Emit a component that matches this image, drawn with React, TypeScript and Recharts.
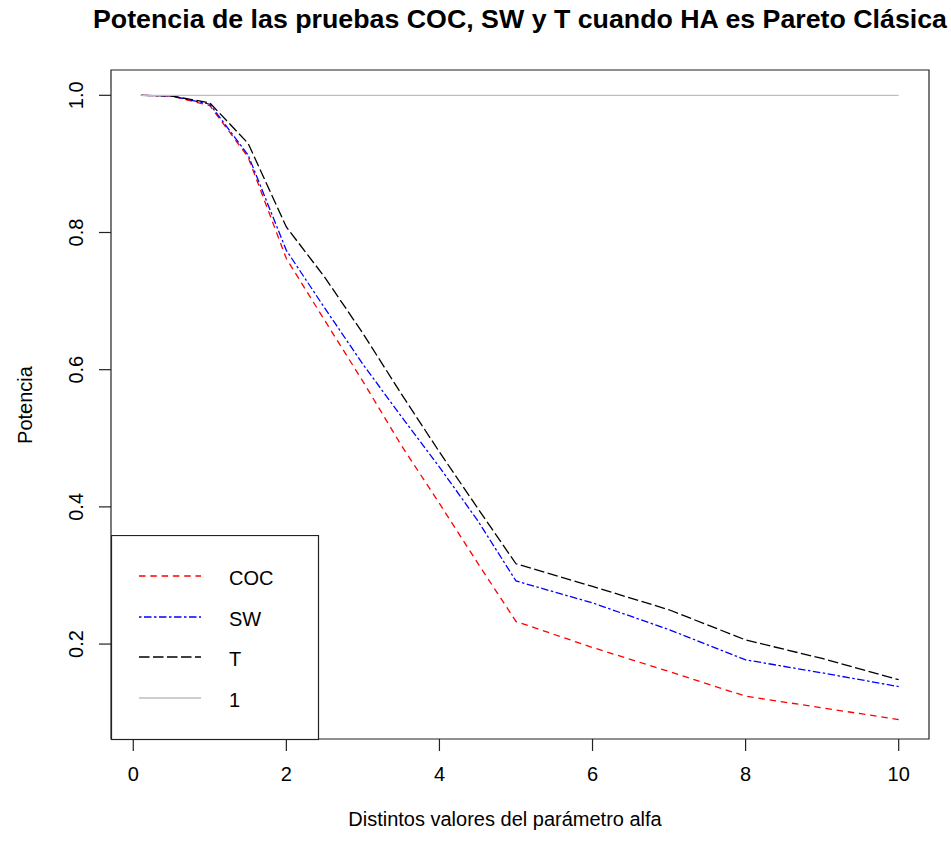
import React from "react";
import { LineChart, Line, XAxis, YAxis, ReferenceArea, Legend } from "recharts";

const alfa = [0.1, 0.5, 1, 1.5, 2, 2.5, 3, 3.5, 4, 4.5, 5, 6, 7, 8, 9, 10];
const coc = [1.0, 0.999, 0.985, 0.91, 0.762, 0.672, 0.583, 0.49, 0.405, 0.318, 0.233, 0.195, 0.16, 0.124, 0.107, 0.09];
const sw = [1.0, 0.999, 0.987, 0.913, 0.774, 0.69, 0.608, 0.532, 0.458, 0.38, 0.292, 0.26, 0.221, 0.177, 0.158, 0.138];
const tt = [1.0, 0.999, 0.989, 0.93, 0.808, 0.735, 0.653, 0.565, 0.48, 0.398, 0.317, 0.284, 0.25, 0.206, 0.179, 0.148];
const uno = [1, 1, 1, 1, 1, 1, 1, 1, 1, 1, 1, 1, 1, 1, 1, 1];

const xTicks = [0, 2, 4, 6, 8, 10];
const yTicks = [0.2, 0.4, 0.6, 0.8, 1.0];
const xDomain = [-0.291, 10.396];
const yDomain = [0.0616, 1.0369];

const title = "Potencia de las pruebas COC, SW y T cuando HA es Pareto Clásica";
const xLabel = "Distintos valores del parámetro alfa";
const yLabel = "Potencia";

const series = [
  { key: "COC", name: "COC", color: "#ff0000", dash: "6.5 4.8" },
  { key: "SW", name: "SW", color: "#0000ff", dash: "2.5 2.5 7.5 2.5" },
  { key: "T", name: "T", color: "#000000", dash: "10.5 3.5" },
  { key: "uno", name: "1", color: "#bebebe", dash: undefined as string | undefined },
];

const data = alfa.map((a, i) => ({ alfa: a, COC: coc[i], SW: sw[i], T: tt[i], uno: uno[i] }));

const FONT = "'Liberation Sans', Arial, sans-serif";

const XTick = (props: any) => {
  const { x, y, payload } = props;
  return (
    <text x={x} y={y} textAnchor="middle" fontFamily={FONT} fontSize={20} fill="#000">
      {payload.value}
    </text>
  );
};

const YTick = (props: any) => {
  const { x, y, payload } = props;
  return (
    <text
      x={x}
      y={y}
      transform={`rotate(-90 ${x} ${y})`}
      textAnchor="middle"
      fontFamily={FONT}
      fontSize={20}
      fill="#000"
    >
      {Number(payload.value).toFixed(1)}
    </text>
  );
};

const LegendBox = () => {
  const rows = [41, 82, 122, 163];
  return (
    <svg width={209} height={206} style={{ display: "block" }}>
      <rect x={0.5} y={0.5} width={207} height={204} fill="#fff" stroke="#222" strokeWidth={1.2} />
      {series.map((s, i) => (
        <g key={s.key}>
          <line
            x1={28}
            x2={90}
            y1={rows[i]}
            y2={rows[i]}
            stroke={s.color}
            strokeWidth={1.3}
            strokeDasharray={s.dash}
          />
          <text x={118} y={rows[i] + 9} fontFamily={FONT} fontSize={20} fill="#000">
            {s.name}
          </text>
        </g>
      ))}
    </svg>
  );
};

export default function App() {
  return (
    <div style={{ position: "absolute", left: 0, top: 0, width: 951, height: 846, background: "#fff" }}>
      <LineChart
        width={951}
        height={846}
        data={data}
        margin={{ top: 70, right: 22, bottom: 0, left: 0 }}
      >
        <XAxis
          dataKey="alfa"
          type="number"
          domain={xDomain}
          ticks={xTicks}
          interval={0}
          allowDataOverflow
          height={107}
          tickSize={12}
          tickMargin={30}
          axisLine={false}
          tickLine={{ stroke: "#222", strokeWidth: 1.2 }}
          tick={<XTick />}
        />
        <YAxis
          type="number"
          domain={yDomain}
          ticks={yTicks}
          interval={0}
          allowDataOverflow
          width={111}
          tickSize={12}
          tickMargin={16}
          axisLine={false}
          tickLine={{ stroke: "#222", strokeWidth: 1.2 }}
          tick={<YTick />}
        />
        <ReferenceArea
          x1={xDomain[0]}
          x2={xDomain[1]}
          y1={yDomain[0]}
          y2={yDomain[1]}
          fill="none"
          fillOpacity={0}
          stroke="#222"
          strokeWidth={1.2}
          ifOverflow="visible"
        />
        {series.map((s) => (
          <Line
            key={s.key}
            dataKey={s.key}
            name={s.name}
            type="linear"
            stroke={s.color}
            strokeWidth={1.3}
            strokeDasharray={s.dash}
            dot={false}
            activeDot={false}
            isAnimationActive={false}
          />
        ))}
        <Legend
          layout="vertical"
          align="center"
          verticalAlign="middle"
          content={<LegendBox />}
          wrapperStyle={{ left: 111, top: 535, width: 209, height: 206 }}
        />
      </LineChart>
      <svg
        width={951}
        height={846}
        style={{ position: "absolute", left: 0, top: 0, pointerEvents: "none" }}
      >
        <text
          x={520}
          y={28}
          textAnchor="middle"
          fontFamily={FONT}
          fontSize={26}
          fontWeight="bold"
          fill="#000"
          textLength={854}
          lengthAdjust="spacingAndGlyphs"
        >
          {title}
        </text>
        <text x={505} y={826} textAnchor="middle" fontFamily={FONT} fontSize={20} fill="#000">
          {xLabel}
        </text>
        <text
          x={32}
          y={405}
          transform="rotate(-90 32 405)"
          textAnchor="middle"
          fontFamily={FONT}
          fontSize={20}
          fill="#000"
        >
          {yLabel}
        </text>
      </svg>
    </div>
  );
}
